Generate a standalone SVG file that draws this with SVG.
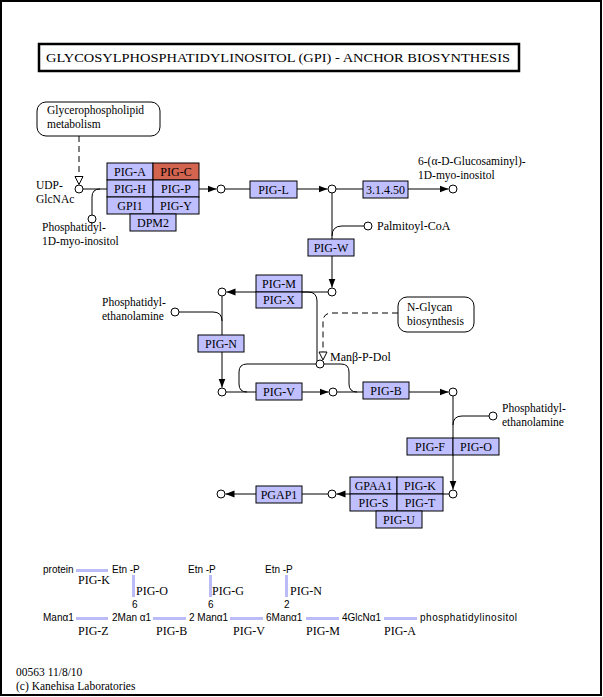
<svg xmlns="http://www.w3.org/2000/svg" width="603" height="697" viewBox="0 0 603 697">
<defs>
<style>
.g rect{fill:#BFBFFF;stroke:#000;stroke-width:1}
.g text,.t{font-family:"Liberation Serif","Times New Roman",serif;font-size:12px;fill:#000}
.g text{text-anchor:middle}
.t.m2{font-size:11.5px}
.g rect.hl{fill:#D26450}
.c{fill:#fff;stroke:#000;stroke-width:1}
.ln{fill:none;stroke:#000;stroke-width:1}
.ds{fill:none;stroke:#000;stroke-width:1;stroke-dasharray:6,4}
.s{font-family:"Liberation Sans",Arial,sans-serif;font-size:10px;fill:#000}
.bar{fill:#BBBBF8}
</style>
<marker id="af" markerUnits="userSpaceOnUse" markerWidth="10" markerHeight="8" refX="9" refY="4" orient="auto" viewBox="0 0 10 8">
<path d="M0,0.5 L9,4 L0,7.5 z" fill="#000"/>
</marker>
<marker id="ah" markerUnits="userSpaceOnUse" markerWidth="10" markerHeight="10" refX="9" refY="5" orient="auto" viewBox="0 0 10 10">
<path d="M1,1 L9,5 L1,9 z" fill="#fff" stroke="#000" stroke-width="1"/>
</marker>
</defs>
<rect x="0" y="0" width="603" height="697" fill="#fff"/>
<rect x="1" y="1" width="600" height="694" fill="none" stroke="#000" stroke-width="2"/>

<g id="title">
<rect x="39" y="44" width="480" height="27" fill="#fff" stroke="#000" stroke-width="2.5"/>
<text class="t" x="46" y="62" style="font-size:13px" textLength="464" lengthAdjust="spacingAndGlyphs">GLYCOSYLPHOSPHATIDYLINOSITOL (GPI) - ANCHOR  BIOSYNTHESIS</text>
</g>

<g id="connectors">
<line class="ds" x1="79" y1="136" x2="79" y2="184.5" marker-end="url(#ah)"/>
<line class="ln" x1="83" y1="189" x2="107" y2="189"/>
<path class="ln" d="M92,215 L92,197 Q92,189 100,189"/>
<line class="ln" x1="198" y1="189" x2="216.5" y2="189" marker-end="url(#af)"/>
<line class="ln" x1="225" y1="189" x2="250" y2="189"/>
<line class="ln" x1="297" y1="189" x2="327.5" y2="189" marker-end="url(#af)"/>
<line class="ln" x1="336" y1="189" x2="363" y2="189"/>
<line class="ln" x1="408" y1="189" x2="448.5" y2="189" marker-end="url(#af)"/>
<line class="ln" x1="332" y1="193" x2="332" y2="239"/>
<path class="ln" d="M364,226 L342,226 Q332,226 332,236"/>
<line class="ln" x1="332" y1="256" x2="332" y2="287.5" marker-end="url(#af)"/>
<line class="ln" x1="328" y1="292" x2="226.5" y2="292" marker-end="url(#af)"/>
<path class="ln" d="M302,292 L308,292 Q317,292 317,301 L317,361"/>
<path class="ds" d="M398,313 L332,313 Q323,313 323,322 L323,360" marker-end="url(#ah)"/>
<path class="ln" d="M316,364 L247,364 Q239,364 239,372 L239,384 Q239,392 247,392"/>
<path class="ln" d="M324,364 L341,364 Q349,364 349,372 L349,384 Q349,392 357,392"/>
<line class="ln" x1="222" y1="296" x2="222" y2="335"/>
<path class="ln" d="M179,312 L213,312 Q222,312 222,321"/>
<line class="ln" x1="222" y1="352" x2="222" y2="387.5" marker-end="url(#af)"/>
<line class="ln" x1="226" y1="392" x2="256" y2="392"/>
<line class="ln" x1="302" y1="392" x2="328.5" y2="392" marker-end="url(#af)"/>
<line class="ln" x1="337" y1="392" x2="363" y2="392"/>
<line class="ln" x1="409" y1="392" x2="448.5" y2="392" marker-end="url(#af)"/>
<line class="ln" x1="453" y1="396" x2="453" y2="489.5" marker-end="url(#af)"/>
<path class="ln" d="M489,416 L462,416 Q453,416 453,425"/>
<line class="ln" x1="449" y1="494" x2="443" y2="494"/>
<line class="ln" x1="350" y1="494" x2="336.5" y2="494" marker-end="url(#af)"/>
<line class="ln" x1="328" y1="494" x2="302" y2="494"/>
<line class="ln" x1="256" y1="494" x2="225.5" y2="494" marker-end="url(#af)"/>
</g>

<g id="glycerophospholipid-metabolism">
<rect x="37" y="102" width="123" height="34" rx="9" fill="#fff" stroke="#000"/>
<text class="t m2"><tspan x="47" y="114.25">Glycerophospholipid</tspan><tspan x="47" y="127.75">metabolism</tspan></text>
</g>
<g id="n-glycan-biosynthesis">
<rect x="398" y="297" width="76" height="35" rx="9" fill="#fff" stroke="#000"/>
<text class="t m2"><tspan x="407" y="311.25">N-Glycan</tspan><tspan x="407" y="324.75">biosynthesis</tspan></text>
</g>

<g id="udp-glcnac"><circle class="c" cx="79" cy="189" r="4"/><text class="t m2"><tspan x="36" y="189.25">UDP-</tspan><tspan x="36" y="202.75">GlcNAc</tspan></text></g>
<g id="pi"><circle class="c" cx="92" cy="219" r="4"/><text class="t m2"><tspan x="42" y="231.25">Phosphatidyl-</tspan><tspan x="42" y="244.75">1D-myo-inositol</tspan></text></g>
<g id="c1"><circle class="c" cx="221" cy="189" r="4"/></g>
<g id="c2"><circle class="c" cx="332" cy="189" r="4"/></g>
<g id="gln-inositol"><circle class="c" cx="453" cy="189" r="4"/><text class="t m2"><tspan x="418" y="165.25">6-(α-D-Glucosaminyl)-</tspan><tspan x="418" y="178.75">1D-myo-inositol</tspan></text></g>
<g id="palmitoyl-coa"><circle class="c" cx="368" cy="226" r="4"/><text class="t" x="377" y="230">Palmitoyl-CoA</text></g>
<g id="c3"><circle class="c" cx="332" cy="292" r="4"/></g>
<g id="c4"><circle class="c" cx="222" cy="292" r="4"/></g>
<g id="pe1"><circle class="c" cx="175" cy="312" r="4"/><text class="t m2"><tspan x="102" y="306.25">Phosphatidyl-</tspan><tspan x="102" y="319.75">ethanolamine</tspan></text></g>
<g id="man-p-dol"><circle class="c" cx="320" cy="364" r="4"/><text class="t" x="330" y="361">Manβ-P-Dol</text></g>
<g id="c5"><circle class="c" cx="222" cy="392" r="4"/></g>
<g id="c6"><circle class="c" cx="333" cy="392" r="4"/></g>
<g id="c7"><circle class="c" cx="453" cy="392" r="4"/></g>
<g id="pe2"><circle class="c" cx="493" cy="416" r="4"/><text class="t m2"><tspan x="502" y="412.25">Phosphatidyl-</tspan><tspan x="502" y="425.75">ethanolamine</tspan></text></g>
<g id="c8"><circle class="c" cx="453" cy="494" r="4"/></g>
<g id="c9"><circle class="c" cx="332" cy="494" r="4"/></g>
<g id="c10"><circle class="c" cx="221" cy="494" r="4"/></g>

<g id="gpi-gnt" class="g">
<rect x="107" y="163" width="46" height="17"/><text x="130" y="176">PIG-A</text>
<rect class="hl" x="153" y="163" width="46" height="17"/><text x="176" y="176">PIG-C</text>
<rect x="107" y="180" width="46" height="17"/><text x="130" y="193">PIG-H</text>
<rect x="153" y="180" width="46" height="17"/><text x="176" y="193">PIG-P</text>
<rect x="107" y="197" width="46" height="17"/><text x="130" y="210">GPI1</text>
<rect x="153" y="197" width="46" height="17"/><text x="176" y="210">PIG-Y</text>
<rect x="130" y="214" width="46" height="17"/><text x="153" y="227">DPM2</text>
</g>
<g id="pig-l" class="g"><rect x="250" y="181" width="47" height="17"/><text x="273.5" y="194">PIG-L</text></g>
<g id="ec-3-1-4-50" class="g"><rect x="363" y="181" width="45" height="17"/><text x="385.5" y="194">3.1.4.50</text></g>
<g id="pig-w" class="g"><rect x="308" y="239" width="46" height="17"/><text x="331" y="252">PIG-W</text></g>
<g id="pig-m" class="g">
<rect x="256" y="275" width="46" height="17"/><text x="279" y="288">PIG-M</text>
<rect x="256" y="292" width="46" height="16"/><text x="279" y="304">PIG-X</text>
</g>
<g id="pig-n" class="g"><rect x="198" y="335" width="46" height="17"/><text x="221" y="348">PIG-N</text></g>
<g id="pig-v" class="g"><rect x="256" y="383" width="46" height="17"/><text x="279" y="396">PIG-V</text></g>
<g id="pig-b" class="g"><rect x="363" y="382" width="46" height="17"/><text x="386" y="395">PIG-B</text></g>
<g id="pig-f" class="g">
<rect x="407" y="438" width="46" height="17"/><text x="430" y="451">PIG-F</text>
<rect x="453" y="438" width="46" height="17"/><text x="476" y="451">PIG-O</text>
</g>
<g id="gpi-transamidase" class="g">
<rect x="350" y="477" width="47" height="17"/><text x="373.5" y="490">GPAA1</text>
<rect x="397" y="477" width="46" height="17"/><text x="420" y="490">PIG-K</text>
<rect x="350" y="494" width="47" height="17"/><text x="373.5" y="507">PIG-S</text>
<rect x="397" y="494" width="46" height="17"/><text x="420" y="507">PIG-T</text>
<rect x="376" y="511" width="46" height="17"/><text x="399" y="524">PIG-U</text>
</g>
<g id="pgap1" class="g"><rect x="256" y="486" width="46" height="17"/><text x="279" y="499">PGAP1</text></g>

<g id="gpi-structure">
<rect class="bar" x="76" y="569" width="32" height="3"/>
<rect class="bar" x="132" y="575" width="3" height="22"/>
<rect class="bar" x="209" y="575" width="3" height="22"/>
<rect class="bar" x="285" y="575" width="3" height="22"/>
<rect class="bar" x="76" y="617" width="32" height="3"/>
<rect class="bar" x="153" y="617" width="33" height="3"/>
<rect class="bar" x="230" y="617" width="33" height="3"/>
<rect class="bar" x="306" y="617" width="33" height="3"/>
<rect class="bar" x="384" y="617" width="33" height="3"/>
<text class="s" x="43" y="573">protein</text>
<text class="s" x="112" y="573">Etn -P</text>
<text class="s" x="188" y="573">Etn -P</text>
<text class="s" x="265" y="573">Etn -P</text>
<text class="s" x="132" y="608">6</text>
<text class="s" x="208" y="608">6</text>
<text class="s" x="284" y="608">2</text>
<text class="s" x="43" y="621">Manα1</text>
<text class="s" x="112" y="621">2Man α1</text>
<text class="s" x="189" y="621">2 Manα1</text>
<text class="s" x="266" y="621">6Manα1</text>
<text class="s" x="342" y="621">4GlcNα1</text>
<text class="s" x="420" y="621" textLength="97">phosphatidylinositol</text>
<text class="t" x="78" y="584">PIG-K</text>
<text class="t" x="136" y="595">PIG-O</text>
<text class="t" x="212" y="595">PIG-G</text>
<text class="t" x="290" y="595">PIG-N</text>
<text class="t" x="78" y="635">PIG-Z</text>
<text class="t" x="156" y="635">PIG-B</text>
<text class="t" x="233" y="635">PIG-V</text>
<text class="t" x="306" y="635">PIG-M</text>
<text class="t" x="384" y="635">PIG-A</text>
</g>

<g id="footer">
<text class="t m2"><tspan x="16" y="676.25">00563 11/8/10</tspan><tspan x="16" y="689.75">(c) Kanehisa Laboratories</tspan></text>
</g>
</svg>
